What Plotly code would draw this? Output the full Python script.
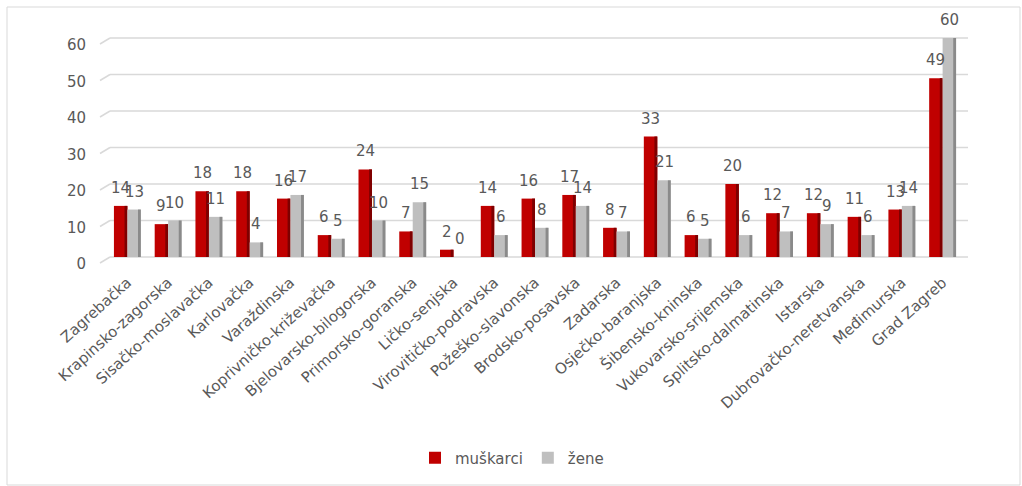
import plotly.graph_objects as go

# Counties and counts per sex
zupanije = [
    "Zagrebačka", "Krapinsko-zagorska", "Sisačko-moslavačka", "Karlovačka",
    "Varaždinska", "Koprivničko-križevačka", "Bjelovarsko-bilogorska",
    "Primorsko-goranska", "Ličko-senjska", "Virovitičko-podravska",
    "Požeško-slavonska", "Brodsko-posavska", "Zadarska", "Osječko-baranjska",
    "Šibensko-kninska", "Vukovarsko-srijemska", "Splitsko-dalmatinska",
    "Istarska", "Dubrovačko-neretvanska", "Međimurska", "Grad Zagreb",
]
muskarci = [14, 9, 18, 18, 16, 6, 24, 7, 2, 14, 16, 17, 8, 33, 6, 20, 12, 12, 11, 13, 49]
zene = [13, 10, 11, 4, 17, 5, 10, 15, 0, 6, 8, 14, 7, 21, 5, 6, 7, 9, 6, 14, 60]
y_ticks = [0, 10, 20, 30, 40, 50, 60]

RED, RED_SIDE = "#C00000", "#7E0000"
GREY, GREY_SIDE = "#BFBFBF", "#8A8A8A"
TXT = "#595959"
FONT = "DejaVu Sans"

pos = list(range(len(zupanije)))
BW = 0.33      # front face width of one bar
SIDE = 0.07    # shaded side face

fig = go.Figure()
fig.add_trace(go.Bar(x=pos, y=muskarci, name="muškarci", marker_color=RED,
                     width=BW, offset=-BW, marker_line_width=0))
fig.add_trace(go.Bar(x=pos, y=muskarci, showlegend=False, marker_color=RED_SIDE,
                     width=SIDE, offset=-SIDE, marker_line_width=0, hoverinfo="skip"))
fig.add_trace(go.Bar(x=pos, y=zene, name="žene", marker_color=GREY,
                     width=BW, offset=0, marker_line_width=0))
fig.add_trace(go.Bar(x=pos, y=zene, showlegend=False, marker_color=GREY_SIDE,
                     width=SIDE, offset=BW - SIDE, marker_line_width=0, hoverinfo="skip"))

# Value labels above each bar
annotations = []
for p, m, z in zip(pos, muskarci, zene):
    for xv, v in ((p - BW / 2, m), (p + BW / 2, z)):
        annotations.append(dict(x=xv, y=v, text=str(v), showarrow=False,
                                yanchor="middle", yshift=18,
                                font=dict(family=FONT, size=15, color=TXT)))

# Back-wall gridlines with a short perspective stub on the left
W, L, PH, T = 856, 107, 219, 38
shapes = []
for v in y_ticks:
    yb = v / 60
    yf = yb - 6 / PH
    shapes.append(dict(type="line", xref="paper", yref="paper",
                       x0=(110 - L) / W, x1=(968 - L) / W, y0=yb, y1=yb,
                       line=dict(color="#D9D9D9", width=1.5), layer="below"))
    shapes.append(dict(type="line", xref="paper", yref="paper",
                       x0=(100 - L) / W, x1=(110 - L) / W, y0=yf, y1=yb,
                       line=dict(color="#D9D9D9", width=1.5), layer="below"))
# Chart frame
shapes.append(dict(type="rect", xref="paper", yref="paper",
                   x0=(7 - L) / W, x1=(1020 - L) / W,
                   y0=(257 - 485) / PH, y1=(257 - 7) / PH,
                   line=dict(color="#D9D9D9", width=1), layer="below"))

fig.update_layout(
    width=1022, height=486,
    margin=dict(l=L, r=1022 - L - W, t=T, b=486 - T - PH),
    barmode="overlay",
    plot_bgcolor="white", paper_bgcolor="white",
    font=dict(family=FONT, color=TXT),
    showlegend=True,
    legend=dict(orientation="h", x=(512 - L) / W, xanchor="center",
                y=(257 - 458) / PH, yanchor="middle",
                font=dict(family=FONT, size=15, color=TXT),
                itemwidth=30, tracegroupgap=0),
    annotations=annotations,
    shapes=shapes,
    xaxis=dict(range=[-0.5, len(zupanije) - 0.5], tickmode="array",
               tickvals=pos, ticktext=zupanije, tickangle=-42,
               showgrid=False, zeroline=False, showline=False, ticks="",
               tickfont=dict(family=FONT, size=15, color=TXT),
               ticklabelstandoff=13),
    yaxis=dict(range=[0, 60], tickvals=y_ticks, showgrid=False,
               zeroline=False, showline=False, ticks="",
               tickfont=dict(family=FONT, size=15, color=TXT),
               ticklabelstandoff=20, ticklabelshift=7),
)

fig.write_html("out.html")
